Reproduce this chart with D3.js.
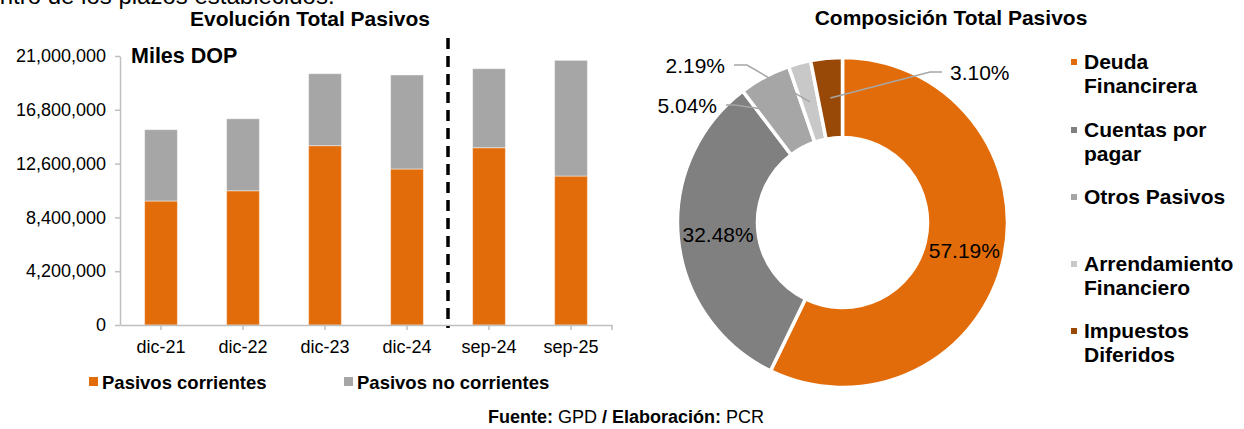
<!DOCTYPE html>
<html>
<head>
<meta charset="utf-8">
<script src="https://cdn.jsdelivr.net/npm/d3@7"></script>
<style>
  body { margin: 0; background: #fff; }
  svg { display: block; font-family: "Liberation Sans", Arial, sans-serif; }
</style>
</head>
<body>
<svg id="chart" width="1244" height="429"></svg>
<script>
// bar chart data (miles DOP)
const periods = ["dic-21", "dic-22", "dic-23", "dic-24", "sep-24", "sep-25"];
const corrientes = [9680000, 10480000, 14000000, 12180000, 13840000, 11630000];
const noCorrientes = [5570000, 5620000, 5620000, 7340000, 6170000, 9030000];
const yTicks = [0, 4200000, 8400000, 12600000, 16800000, 21000000];

// donut data
const components = ["Deuda Financirera", "Cuentas por pagar", "Otros Pasivos", "Arrendamiento Financiero", "Impuestos Diferidos"];
const shares = [57.19, 32.48, 5.04, 2.19, 3.10];
const pieColors = ["#E36C0A", "#808080", "#A6A6A6", "#C8C8C8", "#984807"];

const svg = d3.select("#chart");

// leftover text from the document above the chart
svg.append("text").attr("x", -27).attr("y", 4).attr("font-size", 24)
  .text("dentro de los plazos establecidos.");

// ---------- stacked bars ----------
const x = d3.scaleBand().domain(periods).range([120, 612]).paddingInner(0.6).paddingOuter(0.3);
const y = d3.scaleLinear().domain([0, 21000000]).range([325, 56]);

svg.append("text").attr("x", 310).attr("y", 26).attr("text-anchor", "middle")
  .attr("font-size", 21).attr("font-weight", "bold").text("Evolución Total Pasivos");

const stack = d3.stack().keys(["c", "nc"])(periods.map((p, i) => ({ p: p, c: corrientes[i], nc: noCorrientes[i] })));
const barColors = { c: "#E36C0A", nc: "#A6A6A6" };

svg.append("g").selectAll("g").data(stack).join("g")
  .attr("fill", d => barColors[d.key])
  .selectAll("rect").data(d => d).join("rect")
  .attr("x", d => x(d.data.p))
  .attr("width", x.bandwidth())
  .attr("y", d => y(d[1]))
  .attr("height", d => y(d[0]) - y(d[1]))
  .attr("stroke", "#fff").attr("stroke-opacity", 0.45).attr("stroke-width", 1);

const yAxis = svg.append("g").attr("transform", "translate(120,0)")
  .call(d3.axisLeft(y).tickValues(yTicks).tickFormat(d3.format(",")).tickSize(5).tickSizeOuter(0));
yAxis.selectAll("path, line").attr("stroke", "#BFBFBF").attr("stroke-width", 1.5);
yAxis.selectAll("text").attr("font-size", 18).attr("fill", "#000").attr("x", -14).attr("font-family", null);

const xAxis = svg.append("g").attr("transform", "translate(0,325)")
  .call(d3.axisBottom(x).tickSize(5).tickSizeOuter(0).tickPadding(10));
xAxis.select(".domain").attr("stroke", "#BFBFBF").attr("stroke-width", 1.5);
xAxis.selectAll("line").attr("stroke", "#BFBFBF").attr("stroke-width", 1.5);
xAxis.selectAll("text").attr("font-size", 18).attr("fill", "#000").attr("font-family", null);
xAxis.append("line").attr("x1", 612).attr("x2", 612).attr("y1", 0).attr("y2", 5)
  .attr("stroke", "#BFBFBF").attr("stroke-width", 1.5);

svg.append("text").attr("x", 131).attr("y", 63).attr("font-size", 21.5).attr("font-weight", "bold").text("Miles DOP");

// divider between annual and interim periods
const divX = (x("dic-24") + x.bandwidth() + x("sep-24")) / 2;
svg.append("line").attr("x1", divX).attr("x2", divX).attr("y1", 38).attr("y2", 328)
  .attr("stroke", "#000").attr("stroke-width", 3.5).attr("stroke-dasharray", "11,7");

// bar legend
const barLegend = [["Pasivos corrientes", "#E36C0A", 89], ["Pasivos no corrientes", "#A6A6A6", 344]];
barLegend.forEach(([label, color, lx]) => {
  svg.append("rect").attr("x", lx).attr("y", 377).attr("width", 9).attr("height", 9).attr("fill", color);
  svg.append("text").attr("x", lx + 13).attr("y", 389).attr("font-size", 18.5).attr("font-weight", "bold").text(label);
});

// source line
const src = svg.append("text").attr("x", 626).attr("y", 423).attr("text-anchor", "middle").attr("font-size", 18);
src.append("tspan").attr("font-weight", "bold").text("Fuente: ");
src.append("tspan").text("GPD ");
src.append("tspan").attr("font-weight", "bold").text("/ Elaboración: ");
src.append("tspan").text("PCR");

// ---------- donut ----------
const cx = 842.5, cy = 222.5;
svg.append("text").attr("x", 951).attr("y", 25).attr("text-anchor", "middle")
  .attr("font-size", 21).attr("font-weight", "bold").text("Composición Total Pasivos");

const pie = d3.pie().sort(null).value(d => d)(shares);
const arc = d3.arc().innerRadius(85).outerRadius(165);
const g = svg.append("g").attr("transform", `translate(${cx},${cy})`);

g.selectAll("path").data(pie).join("path")
  .attr("d", arc)
  .attr("fill", (d, i) => pieColors[i])
  .attr("stroke", "#fff").attr("stroke-width", 3.5).attr("stroke-linejoin", "miter");

// inside labels for the two big slices
[0, 1].forEach(i => {
  const c = arc.centroid(pie[i]);
  g.append("text").attr("x", c[0]).attr("y", c[1]).attr("dy", "0.35em").attr("text-anchor", "middle")
    .attr("font-size", 21).text(shares[i].toFixed(2) + "%");
});

// outside labels with leader lines: [slice index, label anchor x, y, elbow x, text-anchor]
const outside = [[2, 717, 106, 735, "end"], [3, 725, 66, 747, "end"], [4, 950, 73, 930, "start"]];
outside.forEach(([i, lx, ly, ex, anchor]) => {
  const c = arc.centroid(pie[i]);
  const sx = anchor === "end" ? lx + 9 : lx - 8;
  svg.append("polyline")
    .attr("points", [[sx, ly - 1], [ex, ly - 1], [cx + c[0], cy + c[1]]].map(p => p.join(",")).join(" "))
    .attr("fill", "none").attr("stroke", "#A6A6A6").attr("stroke-width", 1.5);
  svg.append("text").attr("x", lx).attr("y", ly).attr("dy", "0.35em").attr("text-anchor", anchor)
    .attr("font-size", 21).text(shares[i].toFixed(2) + "%");
});

// donut legend
const legendTop = [69, 137, 204, 271, 338];
components.forEach((name, i) => {
  const words = name.split(" ");
  const lines = i === 1 ? ["Cuentas por", "pagar"] : (words.length > 1 && i !== 2 ? [words[0], words.slice(1).join(" ")] : [name]);
  svg.append("rect").attr("x", 1071).attr("y", legendTop[i] - 10).attr("width", 6).attr("height", 6).attr("fill", pieColors[i]);
  const t = svg.append("text").attr("x", 1084).attr("y", legendTop[i]).attr("font-size", 21).attr("font-weight", "bold");
  lines.forEach((ln, k) => t.append("tspan").attr("x", 1084).attr("dy", k ? 23.5 : 0).text(ln));
});
</script>
</body>
</html>
